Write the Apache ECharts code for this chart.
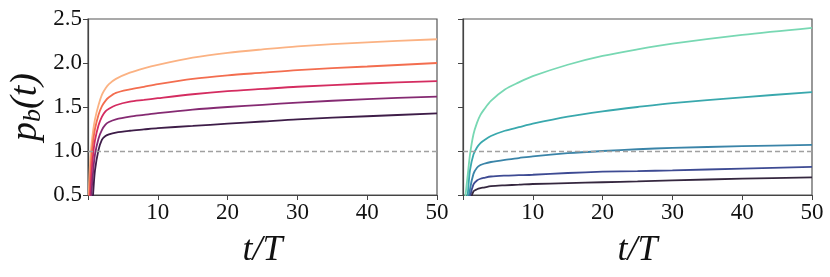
<!DOCTYPE html>
<html><head><meta charset="utf-8">
<script src="https://cdn.jsdelivr.net/npm/echarts@6/dist/echarts.min.js"></script>
<style>html,body{margin:0;padding:0;background:#fff}#c{width:830px;height:277px}</style>
</head><body><div id="c"></div>
<script>
var tGrid = [0.1,0.3,0.5,0.75,1,1.5,2,2.5,3,4,6,8,10,15,20,25,30,40,50];
// left panel (magma)
var leftPeach   = [0.50,0.88,1.07,1.24,1.36,1.52,1.64,1.71,1.76,1.82,1.89,1.94,1.98,2.06,2.115,2.155,2.19,2.235,2.27];
var leftOrange  = [0.30,0.68,0.93,1.12,1.25,1.41,1.51,1.57,1.61,1.66,1.70,1.73,1.76,1.82,1.86,1.89,1.92,1.96,2.00];
var leftMagenta = [0.10,0.45,0.74,0.97,1.12,1.29,1.39,1.45,1.48,1.52,1.56,1.58,1.60,1.645,1.68,1.705,1.73,1.767,1.795];
var leftPurple  = [-0.2,0.25,0.52,0.78,0.96,1.14,1.24,1.30,1.33,1.36,1.39,1.41,1.43,1.47,1.50,1.525,1.55,1.59,1.617];
var leftDark    = [-0.8,-0.2,0.22,0.53,0.78,1.01,1.13,1.17,1.19,1.21,1.23,1.245,1.26,1.285,1.31,1.335,1.36,1.395,1.427];
// right panel (mako)
var rightMint   = [0.20,0.45,0.60,0.78,0.96,1.19,1.32,1.41,1.47,1.57,1.70,1.78,1.85,1.98,2.08,2.155,2.22,2.32,2.40];
var rightTeal   = [-0.5,0.0,0.33,0.57,0.78,0.96,1.04,1.09,1.12,1.17,1.23,1.27,1.31,1.39,1.45,1.50,1.545,1.61,1.67];
var rightBlue   = [-1,-0.5,-0.1,0.35,0.56,0.74,0.81,0.84,0.855,0.875,0.90,0.92,0.94,0.975,1.0,1.02,1.035,1.055,1.07];
var rightIndigo = [-1,-0.6,-0.2,0.30,0.47,0.62,0.665,0.685,0.695,0.71,0.72,0.725,0.73,0.75,0.765,0.772,0.78,0.80,0.82];
var rightNavy   = [-1,-0.7,-0.3,0.10,0.40,0.54,0.565,0.578,0.585,0.60,0.61,0.617,0.625,0.635,0.645,0.655,0.667,0.685,0.70];
var refLevel = 1.0;
var yTicks = [0.5,1.0,1.5,2.0,2.5];
var xTicks = [10,20,30,40,50];

var leftSeries = [leftPeach,leftOrange,leftMagenta,leftPurple,leftDark];
var leftColors = ['#fbb283','#f36d4f','#d42c60','#852a72','#3e1d48'];
var rightSeries = [rightMint,rightTeal,rightBlue,rightIndigo,rightNavy];
var rightColors = ['#78d8b3','#39a8ad','#3a84a8','#3e4b93','#35273f'];

var FONT = 'Liberation Serif';
function pairs(v){ return tGrid.map(function(t,i){ return [t, v[i]]; }); }

function xAxis(idx){
  return {
    gridIndex: idx, type:'value', min:0, max:50, interval:10,
    axisLine:{show:true, onZero:false, lineStyle:{color:'#444', width:1.2}},
    axisTick:{show:true, length:5, lineStyle:{color:'#444'}},
    splitLine:{show:false},
    axisLabel:{fontFamily:FONT, fontSize:23, color:'#111', margin:6,
      formatter:function(v){ return xTicks.indexOf(v)>=0 ? String(v) : ''; }},
    name:'t/T', nameLocation:'middle', nameGap:38,
    nameTextStyle:{fontFamily:FONT, fontStyle:'italic', fontSize:36, color:'#111'}
  };
}
function yAxis(idx, showLabels){
  var a = {
    gridIndex: idx, type:'value', min:0.5, max:2.5, interval:0.5,
    axisLine:{show:true, onZero:false, lineStyle:{color:'#444', width:1.2}},
    axisTick:{show:true, length:5, lineStyle:{color:'#444'}},
    splitLine:{show:false},
    axisLabel:{show:showLabels, fontFamily:FONT, fontSize:23, color:'#111', margin:6,
      formatter:function(v){ return v.toFixed(1); }}
  };
  if (showLabels){
    a.name = '{p|p}{b|b}{n|(t)}';
    a.nameLocation = 'middle';
    a.nameGap = 42;
    a.nameTextStyle = {
      rich:{
        p:{fontFamily:FONT, fontStyle:'italic', fontSize:38, color:'#111'},
        b:{fontFamily:FONT, fontStyle:'italic', fontSize:26, color:'#111', padding:[14,0,0,0]},
        n:{fontFamily:FONT, fontStyle:'italic', fontSize:38, color:'#111'}
      }
    };
  }
  return a;
}

var series = [];
function addLines(arrs, colors, idx){
  arrs.forEach(function(v,i){
    series.push({type:'line', xAxisIndex:idx, yAxisIndex:idx, data:pairs(v), showSymbol:false,
      smooth:0.3, clip:true, lineStyle:{width:1.8, color:colors[i]}, z:3});
  });
  series.push({type:'line', xAxisIndex:idx, yAxisIndex:idx, data:[], silent:true, z:2,
    markLine:{silent:true, symbol:['none','none'], label:{show:false},
      lineStyle:{type:[5,3], color:'#a0a0a0', width:1.3},
      data:[{yAxis:refLevel}]}});
}
addLines(leftSeries, leftColors, 0);
addLines(rightSeries, rightColors, 1);

var chart = echarts.init(document.getElementById('c'), null, {renderer:'canvas'});
chart.setOption({
  animation:false,
  backgroundColor:'#fff',
  grid:[
    {left:88, top:19, width:349, height:176, show:true, borderColor:'#555', borderWidth:1.2, containLabel:false},
    {left:463, top:19, width:349, height:176, show:true, borderColor:'#555', borderWidth:1.2, containLabel:false}
  ],
  xAxis:[xAxis(0), xAxis(1)],
  yAxis:[yAxis(0,true), yAxis(1,false)],
  series:series
});
</script></body></html>
